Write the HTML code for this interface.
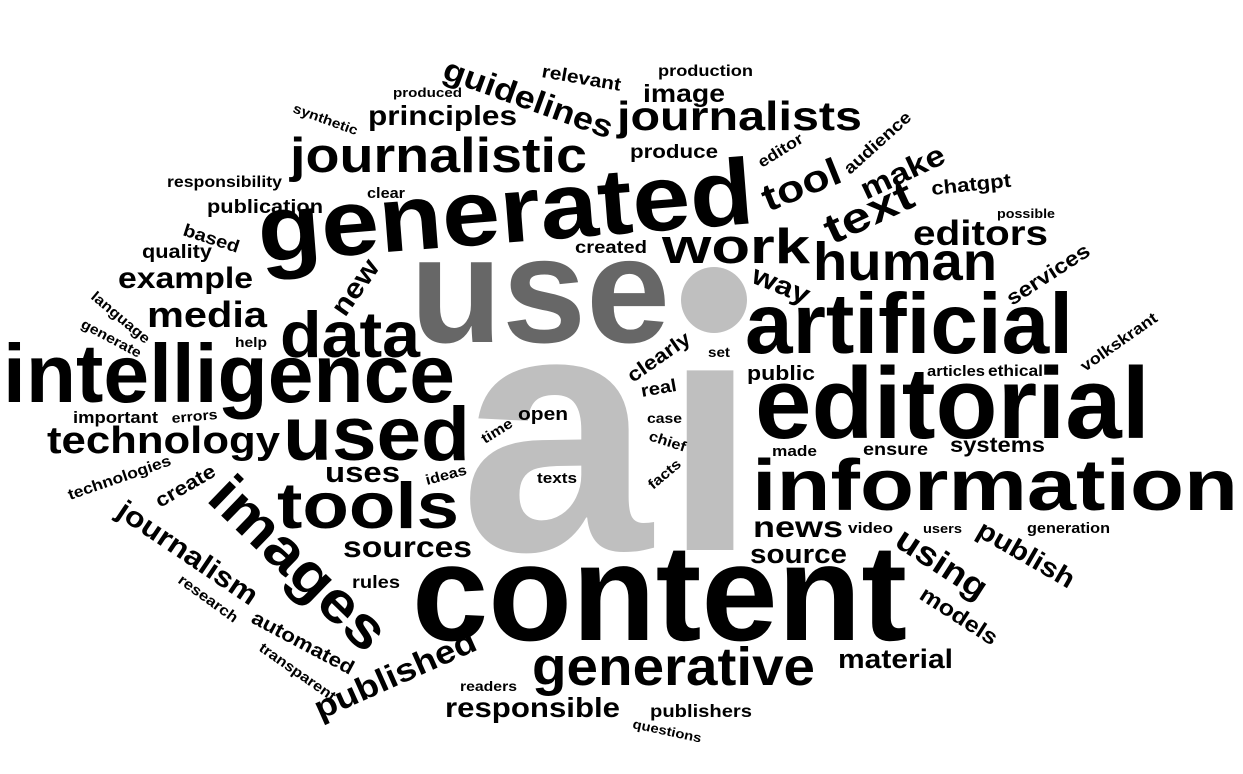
<!DOCTYPE html>
<html><head><meta charset="utf-8">
<style>
html,body{margin:0;padding:0;background:#fff;}
svg{display:block;}
text{font-family:"Liberation Sans",sans-serif;font-weight:bold;}
</style></head>
<body>
<svg id="cloud" width="1243" height="774" viewBox="0 0 1243 774" xmlns="http://www.w3.org/2000/svg">
<defs><clipPath id="istem"><rect x="600" y="360" width="200" height="200"/></clipPath></defs>
<text x="460" y="550" font-size="345" fill="#bfbfbf">a</text>
<text x="663" y="550" font-size="340" fill="#bfbfbf" clip-path="url(#istem)">i</text>
<circle cx="714" cy="300" r="33" fill="#bfbfbf"/>
<g id="words"></g>
</svg>
<script>
// [text, x, baselineY, width, rotation, color]
const horizontalWords = [
["use",410,342,260,0,"#676767"],
["generated",260,262,497,-4.5],
["content",412,640,495,0],
["editorial",755,438,395,0],
["information",752,510,486,0],
["artificial",745,353,328,0],
["intelligence",3,402,452,0],
["journalistic",290,172,297,0],
["journalists",617,130,245,0],
["human",813,280,184,0],
["work",662,263,148,0],
["data",280,357,140,0],
["used",283,460,187,0],
["tools",277,528,182,0],
["technology",47,453,233,0],
["sources",343,557,129,0],
["uses",325,482,75,0],
["media",147,327,120,0],
["example",118,288,135,0],
["quality",142,258,70,0],
["publication",207,213,116,0],
["responsibility",167,187,115,0],
["principles",368,125,149,0],
["produced",393,97,69,0],
["production",658,76,95,0],
["image",643,102,82,0],
["produce",630,158,88,0],
["created",575,253,72,0],
["editors",913,245,135,0],
["possible",997,218,58,0],
["chatgpt",932,195,80,-6],
["public",747,380,68,0],
["set",708,357,22,0],
["real",642,397,36,-10],
["open",518,420,50,0],
["case",647,423,35,0],
["texts",537,483,40,0],
["articles",927,376,58,0],
["ethical",988,376,55,0],
["ensure",863,455,65,0],
["systems",950,452,95,0],
["made",772,456,45,0],
["news",753,537,90,0],
["source",750,563,97,0],
["video",848,533,45,0],
["users",923,533,39,0],
["generation",1027,533,83,0],
["material",838,668,115,0],
["generative",532,685,283,0],
["readers",460,691,57,0],
["responsible",445,717,175,0],
["publishers",650,717,102,0],
["important",73,423,85,0],
["errors",172,423,46,-5],
["help",235,347,32,0],
["rules",352,588,48,0],
["clear",367,198,38,0]
];
const rotatedWords = [
["guidelines",441,78,178,20],
["relevant",541,77,80,10],
["synthetic",292,112,68,20],
["editor",762,168,50,-32],
["audience",850,175,84,-42],
["tool",768,212,82,-22],
["make",866,200,90,-25],
["text",832,245,94,-25],
["way",750,282,60,22],
["services",1012,306,95,-33],
["volkskrant",1085,372,90,-35],
["new",345,318,62,-55],
["based",182,235,58,18],
["language",90,298,72,40],
["generate",80,327,66,28],
["clearly",633,383,72,-35],
["time",485,444,34,-32],
["chief",648,440,38,18],
["ideas",427,485,42,-15],
["facts",653,490,38,-40],
["technologies",70,500,108,-19],
["create",160,508,66,-30],
["journalism",115,515,163,34],
["images",205,500,223,44],
["research",177,582,70,36],
["automated",250,622,113,28],
["transparent",258,650,90,35],
["published",320,720,174,-24],
["questions",632,728,70,12],
["using",893,545,102,33],
["publish",975,535,108,30],
["models",918,598,88,33]
];
const heightScale = {use:1,content:1,intelligence:1,editorial:1,artificial:1,generated:0.9,
  human:0.95,data:0.95,used:0.95,generative:0.95,work:0.78,text:0.8,tool:0.85,make:0.85,
  information:0.82,journalists:0.85,tools:0.85,images:0.9,way:0.85,news:0.82,source:0.9};
const NS="http://www.w3.org/2000/svg";
const g=document.getElementById("words");
function place(w){
  const t=document.createElementNS(NS,"text");
  
  
  t.textContent=w[0];
  t.setAttribute("x",0);t.setAttribute("y",0);
  t.setAttribute("font-size",100);
  t.setAttribute("fill",w[5]||"#000");
  g.appendChild(t);
  const L=t.getComputedTextLength()||1;
  const s=(w[0] in heightScale)?heightScale[w[0]]:0.88;
  const fs=100*w[3]/L*s;
  t.setAttribute("font-size",fs.toFixed(2));
  t.setAttribute("textLength",w[3]);
  t.setAttribute("lengthAdjust","spacingAndGlyphs");
  t.setAttribute("transform","translate("+w[1]+","+w[2]+") rotate("+(w[4]||0)+")");
}
horizontalWords.forEach(place);
rotatedWords.forEach(place);
</script>
</body></html>
